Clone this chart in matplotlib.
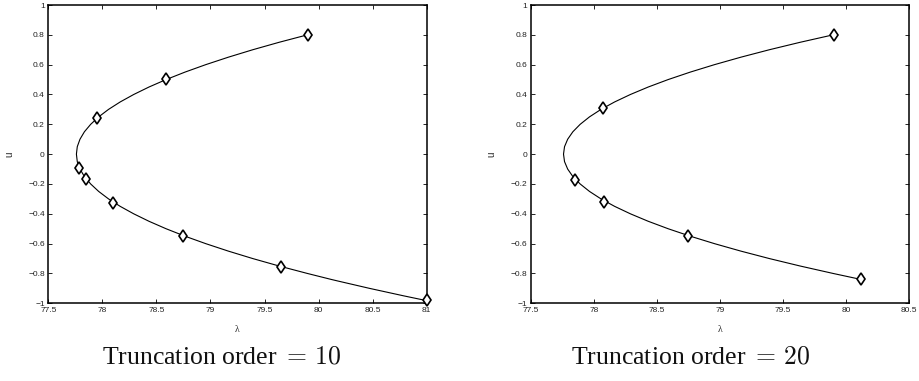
import matplotlib
matplotlib.use("Agg")
import matplotlib.pyplot as plt
import numpy as np

# Continuation curve: u values and lambda values
curve_u = [0.80, 0.75, 0.70, 0.65, 0.60, 0.55, 0.50, 0.45, 0.40, 0.35, 0.30,
           0.25, 0.20, 0.15, 0.10, 0.05, 0.00, -0.05, -0.10, -0.15, -0.20,
           -0.25, -0.30, -0.35, -0.40, -0.45, -0.50, -0.55, -0.60, -0.65,
           -0.70, -0.75, -0.80, -0.84, -0.85, -0.90, -0.95, -0.98]
curve_lam = [79.897, 79.635, 79.391, 79.165, 78.956, 78.764, 78.589, 78.431,
             78.290, 78.165, 78.057, 77.966, 77.892, 77.834, 77.793, 77.768,
             77.760, 77.768, 77.793, 77.834, 77.892, 77.966, 78.057, 78.165,
             78.290, 78.431, 78.589, 78.764, 78.956, 79.165, 79.391, 79.635,
             79.897, 80.117, 80.175, 80.472, 80.787, 80.985]

# Lower end of the curve in each panel
curve_end_10 = -0.98
curve_end_20 = -0.84

# Markers, truncation order 10
pts10_lam = [79.90, 78.59, 77.95, 77.78, 77.85, 78.10, 78.75, 79.65, 81.00]
pts10_u = [0.80, 0.505, 0.245, -0.09, -0.165, -0.325, -0.55, -0.755, -0.98]

# Markers, truncation order 20
pts20_lam = [79.90, 78.07, 77.85, 78.08, 78.75, 80.12]
pts20_u = [0.80, 0.31, -0.175, -0.32, -0.55, -0.84]

yticks = [-1, -0.8, -0.6, -0.4, -0.2, 0, 0.2, 0.4, 0.6, 0.8, 1]
ytick_labels = ["\u22121", "\u22120.8", "\u22120.6", "\u22120.4", "\u22120.2", "0",
                "0.2", "0.4", "0.6", "0.8", "1"]
xticks10 = [77.5, 78, 78.5, 79, 79.5, 80, 80.5, 81]
xticks20 = [77.5, 78, 78.5, 79, 79.5, 80, 80.5]
xtick_labels10 = ["77.5", "78", "78.5", "79", "79.5", "80", "80.5", "81"]
xtick_labels20 = ["77.5", "78", "78.5", "79", "79.5", "80", "80.5"]

titles = ["Truncation order", "Truncation order"]
orders = ["10", "20"]

plt.rcParams['mathtext.fontset'] = 'cm'

fig = plt.figure(figsize=(9.2, 3.81), dpi=100)
W, H = 920.0, 381.0

def make_axes(x0px, x1px, lam_end, pts_lam, pts_u, xticks, xlabels, xmax):
    ax = fig.add_axes([x0px / W, 1 - 303.3 / H, (x1px - x0px) / W, (303.3 - 5) / H])
    cu = np.array(curve_u)
    cl = np.array(curve_lam)
    m = cu >= lam_end - 1e-9
    ax.plot(cl[m], cu[m], color='black', lw=0.8, zorder=2)
    ax.plot(pts_lam, pts_u, linestyle='none', marker='d', markersize=6.5,
            markerfacecolor='white', markeredgecolor='black', markeredgewidth=1.2,
            zorder=3, clip_on=False)
    ax.set_xlim(77.5, xmax)
    ax.set_ylim(-1, 1)
    ax.set_xticks(xticks)
    ax.set_xticklabels(xlabels)
    ax.set_yticks(yticks)
    ax.set_yticklabels(ytick_labels)
    ax.tick_params(direction='in', length=3, width=0.6, top=True, right=True,
                   labelsize=6, labelcolor='#222222', pad=2.5)
    for lab in ax.get_xticklabels() + ax.get_yticklabels():
        lab.set_family(['Liberation Sans', 'DejaVu Sans'])
    for s in ax.spines.values():
        s.set_linewidth(1.1)
        s.set_color('black')
    ax.set_xlabel("\u03bb", fontsize=7, family=['Liberation Serif', 'DejaVu Serif'],
                  color='#222222', labelpad=8)
    ax.set_ylabel("u", fontsize=7, family=['Liberation Sans', 'DejaVu Sans'],
                  color='#222222', labelpad=10)
    return ax

ax1 = make_axes(48.3, 426.7, curve_end_10, pts10_lam, pts10_u, xticks10,
                xtick_labels10, 81)
ax2 = make_axes(530.7, 909.3, curve_end_20, pts20_lam, pts20_u, xticks20,
                xtick_labels20, 80.5)

for cx, t, o in [(221.7, titles[0], orders[0]), (690.8, titles[1], orders[1])]:
    fig.text(cx / W, 1 - 358 / H, t + r" $=\,$" + "$" + o + "$", ha='center', va='center',
             fontsize=18.5, family=['Liberation Serif', 'DejaVu Serif'], color='#111111')

fig.savefig("out.png", dpi=100)
